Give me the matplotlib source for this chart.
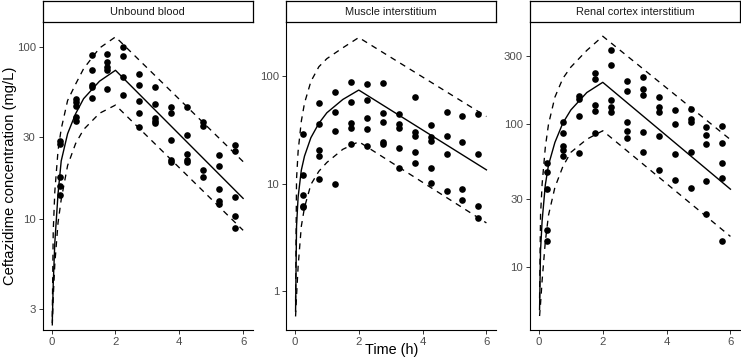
import numpy as np
import matplotlib
matplotlib.use("Agg")
import matplotlib.pyplot as plt
from matplotlib.ticker import NullLocator

plt.rcParams["font.family"] = ["Liberation Sans", "DejaVu Sans"]

panels = ["Unbound blood", "Muscle interstitium", "Renal cortex interstitium"]

# observed samples, 12 time points (h)
obs_t = [0.25, 0.75, 1.25, 1.75, 2.25, 2.75, 3.25, 3.75, 4.25, 4.75, 5.25, 5.75]
blood_obs = [[28.5, 27.5, 17.6, 15.6, 13.8], [50, 48.3, 45.5, 39.1, 37.2],
             [90.2, 73.8, 60.4, 58.5, 50.9], [91, 81.8, 77.2, 73.8, 57.2],
             [100.9, 89, 66.8, 53], [69.9, 60.4, 48.7, 41.6, 34.5],
             [59, 46.8, 38.6, 37.4, 36.4], [44.7, 41.6, 28.9, 22.1, 21.6],
             [44.7, 30.8, 23.9, 22.1, 21.6], [36.6, 34.8, 19.3, 17.6],
             [23.5, 20.5, 15, 12.7, 12.3], [27, 25, 13.5, 10.4, 8.9]]
muscle_obs = [[28.9, 12, 7.9, 6.2, 6.0], [56.5, 35.5, 20.6, 18, 10.9],
              [71, 46.6, 30.8, 10], [88, 57.3, 36.8, 32.6, 23.1],
              [83.6, 59.8, 40.4, 31.9, 22.3], [85.5, 45.3, 37.1, 24.2, 23.5],
              [44.3, 35.5, 33, 21.2, 13.9], [63.8, 29.9, 27.7, 19.5, 15.4],
              [34.8, 27.3, 24.7, 14, 10.1], [46.6, 27.5, 18.8, 8.6],
              [42.8, 24.3, 8.8, 7.1], [44.3, 19, 6.2, 4.8]]
renal_obs = [[53.2, 46.5, 34.9, 18.1, 15.1], [104.5, 87.4, 70.4, 66, 60],
             [158, 150, 115, 62.5], [228, 207, 137, 124, 87.4],
             [333, 261, 148, 131.6, 121], [201, 171, 103, 90, 79.8],
             [216, 177, 161, 87.9, 63.5], [156, 133, 121, 82.8, 47.8],
             [125, 100.5, 61.9, 40.6], [129, 109, 104.5, 64.3, 35.5],
             [96.4, 84.2, 72.8, 40.2, 23.4], [97.3, 73.6, 53.2, 41.8, 15.1]]

# model prediction: median and 90% interval
pred_t = [0.02, 0.05, 0.1, 0.2, 0.3, 0.5, 0.75, 1.0, 1.5, 2.0, 6.0]
blood_med = [2.5, 4.2, 7.3, 14, 21.8, 31.4, 41, 50.2, 63.5, 73.5, 13.2]
blood_hi = [2.7, 8.5, 14.5, 25, 33.5, 49, 61, 75, 99, 115, 21.6]
blood_lo = [2.4, 3.5, 5.5, 9.5, 13, 20.5, 27.5, 33.2, 41.3, 46.1, 8.6]
muscle_med = [0.65, 4.0, 7.5, 13.3, 18, 26.7, 36.3, 45.5, 60.5, 74, 13.4]
muscle_hi = [0.8, 11, 20, 38, 56, 89, 122, 145, 183, 228, 42]
muscle_lo = [0.58, 0.9, 1.7, 4.0, 6.0, 9.8, 13, 15.7, 20.8, 24.5, 4.3]
renal_med = [5, 13, 21, 37.5, 51.8, 74.5, 102, 126, 167, 197, 35]
renal_hi = [6, 23, 38, 69, 100, 155, 210, 252, 330, 415, 78]
renal_lo = [4.5, 5.5, 8, 15, 23, 36, 50.5, 63.5, 78.5, 90, 16.3]

yticks = [[3, 10, 30, 100], [1, 10, 100], [10, 30, 100, 300]]
ylims = [(2.26, 141), (0.434, 320), (3.59, 525)]

W, H = 741, 364
fig = plt.figure(figsize=(W / 100, H / 100), dpi=100)
lefts = [42.7, 286, 530]
pw, top, bot, stop = 210, 21.7, 330, 1.0

data = [(blood_obs, blood_med, blood_hi, blood_lo),
        (muscle_obs, muscle_med, muscle_hi, muscle_lo),
        (renal_obs, renal_med, renal_hi, renal_lo)]

for i, (obs, med, hi, lo) in enumerate(data):
    ax = fig.add_axes([lefts[i] / W, 1 - bot / H, pw / W, (bot - top) / H])
    ts = [t for t, vs in zip(obs_t, obs) for _ in vs]
    vs = [v for vv in obs for v in vv]
    ax.scatter(ts, vs, s=23, c="k", lw=0, zorder=3)
    ax.plot(pred_t, med, "k-", lw=1.0)
    ax.plot(pred_t, hi, color="k", ls=(0, (4.5, 4)), lw=0.95)
    ax.plot(pred_t, lo, color="k", ls=(0, (4.5, 4)), lw=0.95)
    ax.set_yscale("log")
    ax.set_ylim(*ylims[i]); ax.set_xlim(-0.28, 6.3)
    ax.set_yticks(yticks[i]); ax.set_yticklabels([str(v) for v in yticks[i]])
    ax.yaxis.set_minor_locator(NullLocator())
    ax.set_xticks([0, 2, 4, 6])
    for s in ("top", "right"):
        ax.spines[s].set_visible(False)
    for s in ("left", "bottom"):
        ax.spines[s].set_linewidth(0.8)
    ax.tick_params(labelsize=8.2, labelcolor="#4D4D4D", color="#333333", length=3, width=0.7, pad=2)

    sx = fig.add_axes([lefts[i] / W, 1 - top / H, pw / W, (top - stop) / H])
    sx.set_xticks([]); sx.set_yticks([])
    for s in sx.spines.values():
        s.set_linewidth(0.9)
    sx.text(0.5, 0.48, panels[i], ha="center", va="center", fontsize=7.9, color="#1A1A1A")

fig.text((lefts[0] + lefts[2] + pw) / 2 / W, 1 - 350 / H, "Time (h)", ha="center", va="center", fontsize=10.4)
fig.text(10 / W, 1 - (top + bot) / 2 / H, "Ceftazidime concentration (mg/L)", rotation=90,
         ha="center", va="center", fontsize=10.6)

fig.savefig("out.png", dpi=100)
